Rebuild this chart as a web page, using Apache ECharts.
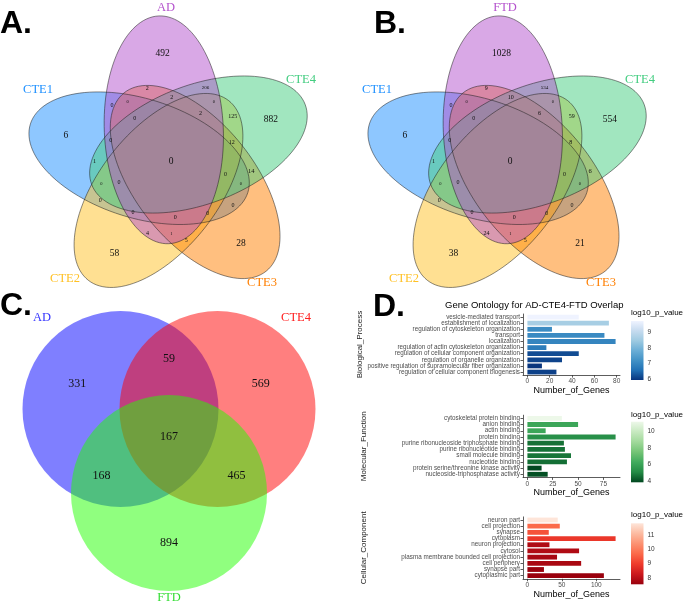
<!DOCTYPE html>
<html><head><meta charset="utf-8">
<script src="https://cdn.jsdelivr.net/npm/echarts@6/dist/echarts.min.js"></script>
<style>html,body{margin:0;padding:0;background:#fff}#c{width:685px;height:604px}</style>
</head><body><div id="c"></div>
<script>
// ================= DATA =================
// Panel A / B: five-set Venn. Set order = rotation order (top, then clockwise)
const setsA = ['AD', 'CTE4', 'CTE3', 'CTE2', 'CTE1'];
const setsB = ['FTD', 'CTE4', 'CTE3', 'CTE2', 'CTE1'];
// region counts per ring of regions; index k = rotation step (0 = top set side, clockwise)
const vennA_unique = [492, 882, 28, 58, 6];
const vennA_ring1 = [2, 125, 0, 4, 1];
const vennA_ring2 = [2, 12, 0, 0, 0];
const vennA_ring3 = [206, 14, 5, 0, 0];
const vennA_ring4 = [0, 0, 1, 0, 0];
const vennA_ring5 = [2, 0, 0, 0, 0];
const vennA_all = 0;

const vennB_unique = [1028, 554, 21, 38, 6];
const vennB_ring1 = [9, 59, 0, 24, 1];
const vennB_ring2 = [10, 8, 0, 0, 0];
const vennB_ring3 = [534, 6, 5, 0, 0];
const vennB_ring4 = [0, 0, 1, 0, 0];
const vennB_ring5 = [6, 0, 0, 0, 0];
const vennB_all = 0;

// Panel C: three-set Venn
const setsC = ['AD', 'CTE4', 'FTD'];
const vennC_unique = [331, 569, 894];          // AD, CTE4, FTD only
const vennC_pairs = [59, 465, 168];            // AD&CTE4, CTE4&FTD, FTD&AD
const vennC_all = 167;

// Panel D: GO enrichment
const bpTerms = ['vesicle-mediated transport', 'establishment of localization', 'regulation of cytoskeleton organization', 'transport', 'localization', 'regulation of actin cytoskeleton organization', 'regulation of cellular component organization', 'regulation of organelle organization', 'positive regulation of supramolecular fiber organization', 'regulation of cellular component biogenesis'];
const bpGenes = [46, 73, 22, 69, 79, 17, 46, 31, 13, 26];
const bpLogP = [9.72, 8.6, 7.1, 7.05, 6.95, 6.8, 6.19, 6.11, 5.95, 6.08];
const bpTicks = [0, 20, 40, 60, 80];
const bpLegendTicks = [6, 7, 8, 9];

const mfTerms = ['cytoskeletal protein binding', 'anion binding', 'actin binding', 'protein binding', 'purine ribonucleoside triphosphate binding', 'purine ribonucleotide binding', 'small molecule binding', 'nucleotide binding', 'protein serine/threonine kinase activity', 'nucleoside-triphosphatase activity'];
const mfGenes = [34, 50, 18, 87, 36, 37, 43, 39, 14, 20];
const mfLogP = [11.1, 6.1, 6.1, 5.3, 4.64, 4.65, 4.73, 4.6, 3.9, 4.05];
const mfTicks = [0, 25, 50, 75];
const mfLegendTicks = [4, 6, 8, 10];

const ccTerms = ['neuron part', 'cell projection', 'synapse', 'cytoplasm', 'neuron projection', 'cytosol', 'plasma membrane bounded cell projection', 'cell periphery', 'synapse part', 'cytoplasmic part'];
const ccGenes = [44, 47, 31, 128, 32, 75, 43, 78, 24, 111];
const ccLogP = [11.8, 9.68, 9.33, 8.9, 7.89, 7.89, 7.77, 7.8, 7.58, 7.56];
const ccTicks = [0, 50, 100];
const ccLegendTicks = [8, 9, 10, 11];

// ================= LAYOUT / STYLE =================
const SERIF = 'Liberation Serif';
const SANS = 'Liberation Sans';
const V5 = {
  a: 114, b: 59.5, dist: 32, offAng: -13, majAng: -2.5,
  majTweak: [0, 0, 0, 4.5, 2],
  ringBase: [[-8.4, -107.7], [-23.8, -72.6], [0.8, -63.6], [34.4, -73.2], [42.8, -59.5], [29.5, -47.8]],
  ringFont: [[9.5, 9.5, 9.5, 9.5, 9.5], [6, 6, 6, 6, 6], [6, 6, 6, 6, 6], [5, 6.5, 6, 6, 6], [4.5, 4.5, 4.5, 4.5, 4.5], [6, 6, 6, 6, 6]],
  centerFont: 9.5,
  catPos: [[-5, -153], [130, -81], [91, 122], [-106, 118], [-133, -71]],
  colors: ['#B452CD', '#43CD80', '#FF7F00', '#FFC125', '#1E90FF'],
  drawOrder: [4, 3, 2, 1, 0]
};
const V3 = {
  dist: 56, r: 98, angles: [-60, 60, 180], pairAngles: [0, 120, -120],
  uniqueR: 106, pairR: 78,
  catPos: [[-127, -119], [127, -119], [0, 161]],
  colors: ['#0000FF', '#FF0000', '#22FF00'],
  labelColors: ['#3333FF', '#FF2020', '#33DD33']
};
const PAL_BLUE = ['#08357E', '#2171B5', '#4292C6', '#6BAED6', '#9ECAE1', '#C6DBEF', '#EFF3FF'];
const PAL_GREEN = ['#00471F', '#238B45', '#41AB5D', '#74C476', '#A1D99B', '#C7E9C0', '#EDF8E9'];
const PAL_RED = ['#99000D', '#CB181D', '#EF3B2C', '#FB6A4A', '#FC9272', '#FCBBA1', '#FEE5D9'];

function rot(p, deg) {
  const r = deg * Math.PI / 180, c = Math.cos(r), s = Math.sin(r);
  return [p[0] * c - p[1] * s, p[0] * s + p[1] * c];
}
function rgba(hex, a) {
  const n = parseInt(hex.slice(1), 16);
  return 'rgba(' + ((n >> 16) & 255) + ',' + ((n >> 8) & 255) + ',' + (n & 255) + ',' + a + ')';
}
function polar(r, deg) { return rot([0, -r], deg); }

// ================= BUILD =================
const grids = [], xAxes = [], yAxes = [], series = [], visualMaps = [];
function hiddenGrid(g, rx, ry) {
  grids.push(Object.assign({ outerBoundsMode: 'none', containLabel: false }, g));
  const gi = grids.length - 1;
  xAxes.push({ gridIndex: gi, type: 'value', min: -rx, max: rx, show: false, splitLine: { show: false } });
  yAxes.push({ gridIndex: gi, type: 'value', min: -ry, max: ry, inverse: true, show: false, splitLine: { show: false } });
  return gi;
}

function venn5(gi, sets, rings, all) {
  const ellipse = (k) => {
    const c = polar(V5.dist, V5.offAng + 72 * k);
    const pts = [];
    for (let i = 0; i < 120; i++) {
      const t = i / 120 * Math.PI * 2;
      const p = rot([V5.b * Math.cos(t), V5.a * Math.sin(t)], V5.majAng + V5.majTweak[k] + 72 * k);
      pts.push([c[0] + p[0], c[1] + p[1]]);
    }
    return pts;
  };
  const ellData = V5.drawOrder.map(k => [k]);
  series.push({
    type: 'custom', xAxisIndex: gi, yAxisIndex: gi, silent: true, z: 1, data: ellData,
    renderItem: (p, api) => {
      const k = api.value(0);
      return { type: 'polygon', shape: { points: ellipse(k).map(q => api.coord(q)) }, style: { fill: rgba(V5.colors[k], 0.5) } };
    }
  });
  series.push({
    type: 'custom', xAxisIndex: gi, yAxisIndex: gi, silent: true, z: 2, data: ellData,
    renderItem: (p, api) => {
      const k = api.value(0);
      return { type: 'polygon', shape: { points: ellipse(k).map(q => api.coord(q)) }, style: { fill: 'none', stroke: 'rgba(30,30,30,0.75)', lineWidth: 0.7 } };
    }
  });
  const lab = [];
  rings.forEach((vals, r) => vals.forEach((v, k) => {
    const pos = rot(V5.ringBase[r], 72 * k);
    lab.push([pos[0], pos[1], v, r, k]);
  }));
  lab.push([0, 0, all, -1, 0]);
  series.push({
    type: 'custom', xAxisIndex: gi, yAxisIndex: gi, silent: true, z: 3, data: lab,
    renderItem: (p, api) => {
      const pt = api.coord([api.value(0), api.value(1)]);
      const r = api.value(3), k = api.value(4);
      const fs = r < 0 ? V5.centerFont : V5.ringFont[r][k];
      return { type: 'text', x: pt[0], y: pt[1], style: { text: String(api.value(2)), fontSize: fs, fontFamily: SERIF, fill: '#111', align: 'center', verticalAlign: 'middle' } };
    }
  });
  series.push({
    type: 'custom', xAxisIndex: gi, yAxisIndex: gi, silent: true, z: 3,
    data: sets.map((s, k) => [V5.catPos[k][0], V5.catPos[k][1], k]),
    renderItem: (p, api) => {
      const pt = api.coord([api.value(0), api.value(1)]);
      const k = api.value(2);
      return { type: 'text', x: pt[0], y: pt[1], style: { text: sets[k], fontSize: 12.5, fontFamily: SERIF, fill: V5.colors[k], align: 'center', verticalAlign: 'middle' } };
    }
  });
}

function venn3(gi) {
  series.push({
    type: 'custom', xAxisIndex: gi, yAxisIndex: gi, silent: true, z: 1, data: setsC.map((s, k) => [k]),
    renderItem: (p, api) => {
      const k = api.value(0);
      const c = api.coord(polar(V3.dist, V3.angles[k]));
      const rr = api.size([V3.r, 0])[0];
      return { type: 'circle', shape: { cx: c[0], cy: c[1], r: rr }, style: { fill: rgba(V3.colors[k], 0.5) } };
    }
  });
  const lab = [];
  vennC_unique.forEach((v, k) => { const q = polar(V3.uniqueR, V3.angles[k]); lab.push([q[0], q[1], v]); });
  vennC_pairs.forEach((v, k) => { const q = polar(V3.pairR, V3.pairAngles[k]); lab.push([q[0], q[1], v]); });
  lab.push([0, 0, vennC_all]);
  series.push({
    type: 'custom', xAxisIndex: gi, yAxisIndex: gi, silent: true, z: 3, data: lab,
    renderItem: (p, api) => {
      const pt = api.coord([api.value(0), api.value(1)]);
      return { type: 'text', x: pt[0], y: pt[1], style: { text: String(api.value(2)), fontSize: 12, fontFamily: SERIF, fill: '#111', align: 'center', verticalAlign: 'middle' } };
    }
  });
  series.push({
    type: 'custom', xAxisIndex: gi, yAxisIndex: gi, silent: true, z: 3,
    data: setsC.map((s, k) => [V3.catPos[k][0], V3.catPos[k][1], k]),
    renderItem: (p, api) => {
      const pt = api.coord([api.value(0), api.value(1)]);
      const k = api.value(2);
      return { type: 'text', x: pt[0], y: pt[1], style: { text: setsC[k], fontSize: 12.5, fontFamily: SERIF, fill: V3.labelColors[k], align: 'center', verticalAlign: 'middle' } };
    }
  });
}

const gA = hiddenGrid({ left: 1, top: 16, width: 340, height: 290 }, 170, 145);
venn5(gA, setsA, [vennA_unique, vennA_ring1, vennA_ring2, vennA_ring3, vennA_ring4, vennA_ring5], vennA_all);
const gB = hiddenGrid({ left: 340, top: 16, width: 340, height: 290 }, 170, 145);
venn5(gB, setsB, [vennB_unique, vennB_ring1, vennB_ring2, vennB_ring3, vennB_ring4, vennB_ring5], vennB_all);
const gC = hiddenGrid({ left: 0, top: 292, width: 338, height: 290 }, 169, 145);
venn3(gC);

function goPanel(box, legendBox, facet, terms, genes, logp, ticks, legendTicks, pal) {
  grids.push({ left: box[0], top: box[1], width: box[2], height: box[3], outerBoundsMode: 'none', containLabel: false });
  const gi = grids.length - 1;
  const maxG = Math.max(...genes);
  xAxes.push({
    gridIndex: gi, type: 'value', min: -0.05 * maxG, max: 1.05 * maxG,
    splitLine: { show: false },
    axisLine: { show: true, onZero: false, lineStyle: { color: '#333', width: 0.8 } },
    axisTick: { show: true, length: 2.5, customValues: ticks, lineStyle: { color: '#333', width: 0.8 } },
    axisLabel: { customValues: ticks, fontSize: 6.5, color: '#4D4D4D', margin: 3, fontFamily: SANS },
    name: 'Number_of_Genes', nameLocation: 'middle', nameGap: 9,
    nameTextStyle: { fontSize: 9, color: '#000', fontFamily: SANS }
  });
  yAxes.push({
    gridIndex: gi, type: 'category', data: terms, inverse: true,
    axisLine: { show: true, onZero: false, lineStyle: { color: '#333', width: 0.8 } },
    axisTick: { show: true, length: 2.5, alignWithLabel: true, lineStyle: { color: '#333', width: 0.8 } },
    axisLabel: { interval: 0, fontSize: 6.3, color: '#4D4D4D', margin: 3, fontFamily: SANS },
    name: facet, nameLocation: 'middle', nameGap: 155, nameRotate: 90,
    nameTextStyle: { fontSize: 8, color: '#1A1A1A', fontFamily: SANS }
  });
  series.push({
    type: 'bar', xAxisIndex: gi, yAxisIndex: gi, silent: true, barCategoryGap: '22%',
    data: terms.map((t, i) => [genes[i], t, logp[i]]), encode: { x: 0, y: 1 }
  });
  const lo = Math.min(...logp), hi = Math.max(...logp);
  visualMaps.push({ type: 'continuous', show: false, seriesIndex: series.length - 1, dimension: 2, min: lo, max: hi, inRange: { color: pal } });
  // colour bar legend
  grids.push({ left: legendBox[0], top: legendBox[1], width: legendBox[2], height: legendBox[3], outerBoundsMode: 'none', containLabel: false });
  const li = grids.length - 1;
  xAxes.push({ gridIndex: li, type: 'value', min: 0, max: 1, show: false, splitLine: { show: false } });
  yAxes.push({
    gridIndex: li, type: 'value', min: lo, max: hi, position: 'right', z: 10,
    splitLine: { show: false }, axisLine: { show: false },
    axisTick: { show: true, inside: true, length: 2.5, customValues: legendTicks, lineStyle: { color: '#fff', width: 0.8 } },
    axisLabel: { customValues: legendTicks, fontSize: 6.5, color: '#333', margin: 4, fontFamily: SANS }
  });
  series.push({
    type: 'custom', xAxisIndex: li, yAxisIndex: li, silent: true, z: 1, data: [[0, lo]],
    renderItem: (p, api) => {
      const p0 = api.coord([0, lo]), p1 = api.coord([1, hi]);
      const stops = pal.map((c, i) => ({ offset: i / (pal.length - 1), color: c }));
      return { type: 'rect', shape: { x: p0[0], y: p1[1], width: p1[0] - p0[0], height: p0[1] - p1[1] },
        style: { fill: new echarts.graphic.LinearGradient(0, 1, 0, 0, stops) } };
    }
  });
}

goPanel([523, 314, 97, 61.1], [631, 321, 12.5, 59], 'Biological_Process', bpTerms, bpGenes, bpLogP, bpTicks, bpLegendTicks, PAL_BLUE);
goPanel([523, 415.2, 97, 62.2], [631, 421.7, 12.5, 60.6], 'Molecular_Function', mfTerms, mfGenes, mfLogP, mfTicks, mfLegendTicks, PAL_GREEN);
goPanel([523, 516.9, 97, 61.9], [631, 523.3, 12.5, 61], 'Cellular_Component', ccTerms, ccGenes, ccLogP, ccTicks, ccLegendTicks, PAL_RED);

const letter = (t, x, y) => ({ type: 'text', x: x, y: y, style: { text: t, fontSize: 32, fontWeight: 'bold', fontFamily: SANS, fill: '#000', verticalAlign: 'middle' } });
const legTitle = (y) => ({ type: 'text', x: 631, y: y, style: { text: 'log10_p_value', fontSize: 8, fontFamily: SANS, fill: '#000', verticalAlign: 'middle' } });

const option = {
  animation: false,
  backgroundColor: '#fff',
  title: { text: 'Gene Ontology for AD-CTE4-FTD Overlap', left: 445, top: 300, padding: 0,
    textStyle: { fontSize: 9.5, fontWeight: 'normal', color: '#000', fontFamily: SANS } },
  grid: grids, xAxis: xAxes, yAxis: yAxes, series: series, visualMap: visualMaps,
  graphic: [letter('A.', 0, 24), letter('B.', 374, 24), letter('C.', 0, 306), letter('D.', 373, 307),
    legTitle(313), legTitle(415), legTitle(515)]
};
const chart = echarts.init(document.getElementById('c'));
chart.setOption(option);
</script></body></html>
